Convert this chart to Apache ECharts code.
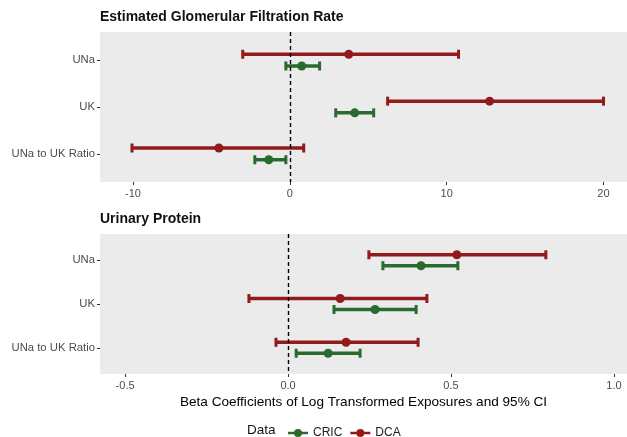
<!DOCTYPE html>
<html><head><meta charset="utf-8">
<script src="https://cdn.jsdelivr.net/npm/echarts@6/dist/echarts.min.js"></script>
<style>html,body{margin:0;padding:0;background:#fff}#c{width:627px;height:437px}</style>
</head><body><div id="c"></div>
<script>
const categories = ['UNa', 'UK', 'UNa to UK Ratio'];
const panelTitles = ['Estimated Glomerular Filtration Rate', 'Urinary Protein'];
const axisTitle = 'Beta Coefficients of Log Transformed Exposures and 95% CI';
const legendTitle = 'Data';
const groups = ['CRIC', 'DCA'];
// eGFR: [estimate, lower, upper] per category
const egfrDCA  = [[3.76, -3.0, 10.76], [12.74, 6.24, 20.0], [-4.52, -10.06, 0.89]];
const egfrCRIC = [[0.76, -0.25, 1.9], [4.14, 2.93, 5.35], [-1.34, -2.23, -0.25]];
// Urinary protein
const protDCA  = [[0.518, 0.248, 0.791], [0.16, -0.12, 0.426], [0.178, -0.037, 0.399]];
const protCRIC = [[0.408, 0.291, 0.521], [0.267, 0.141, 0.393], [0.123, 0.025, 0.221]];
const egfrTicks = [-10, 0, 10, 20];
const protTicks = [-0.5, 0.0, 0.5, 1.0];

const colors = {CRIC: '#2b6a2f', DCA: '#921a1a'};
const font = 'Liberation Sans, Arial, sans-serif';

function toData(arr) {
  return arr.map((d, i) => [i + 1, d[1], d[0], d[2]]);
}
function makeRender(sign) {
  return function (params, api) {
    const y = api.value(0);
    const band = Math.abs(api.size([0, 1])[1]);
    const off = sign * 0.125 * band;
    const lo = api.coord([api.value(1), y]);
    const est = api.coord([api.value(2), y]);
    const hi = api.coord([api.value(3), y]);
    const yy = lo[1] + off;
    const c = api.visual('color');
    const capH = 4.5;
    return {
      type: 'group',
      children: [
        {type: 'line', shape: {x1: lo[0], y1: yy, x2: hi[0], y2: yy}, style: {stroke: c, lineWidth: 3.5}},
        {type: 'line', shape: {x1: lo[0], y1: yy - capH, x2: lo[0], y2: yy + capH}, style: {stroke: c, lineWidth: 3}},
        {type: 'line', shape: {x1: hi[0], y1: yy - capH, x2: hi[0], y2: yy + capH}, style: {stroke: c, lineWidth: 3}},
        {type: 'circle', shape: {cx: est[0], cy: yy, r: 4.5}, style: {fill: c}}
      ]
    };
  };
}
function xAxisFor(idx, min, max, ticks, fmt, withName) {
  const ax = {
    type: 'value', gridIndex: idx, min: min, max: max,
    axisLine: {show: false, onZero: false},
    axisTick: {show: true, length: 3, lineStyle: {color: '#333', width: 1}, customValues: ticks},
    axisLabel: {color: '#4d4d4d', fontSize: 11, fontFamily: font, margin: 6, customValues: ticks, formatter: fmt},
    splitLine: {show: false}
  };
  if (withName) {
    ax.name = axisTitle;
    ax.nameLocation = 'middle';
    ax.nameGap = 21;
    ax.nameTextStyle = {color: '#000', fontSize: 13.6, fontFamily: font};
  }
  return ax;
}
function yAxisFor(idx) {
  return {
    type: 'value', gridIndex: idx, min: 0.4, max: 3.6, inverse: true,
    axisLine: {show: false, onZero: false},
    axisTick: {show: true, length: 3, lineStyle: {color: '#333', width: 1}, customValues: [1, 2, 3]},
    axisLabel: {color: '#4d4d4d', fontSize: 11.3, fontFamily: font, margin: 5, customValues: [1, 2, 3],
      formatter: v => categories[Math.round(v) - 1] || ''},
    splitLine: {show: false}
  };
}
const zeroLine = {
  silent: true, symbol: 'none', label: {show: false},
  lineStyle: {color: '#000', type: [4, 3], width: 1.4},
  data: [{xAxis: 0}]
};
function series(name, arr, idx, sign, withZero) {
  const s = {
    name: name, type: 'custom', xAxisIndex: idx, yAxisIndex: idx,
    color: colors[name], itemStyle: {color: colors[name]},
    renderItem: makeRender(sign),
    encode: {x: [1, 2, 3], y: 0},
    data: toData(arr), z: 3
  };
  if (withZero) s.markLine = zeroLine;
  return s;
}
const chart = echarts.init(document.getElementById('c'), null, {renderer: 'canvas'});
chart.setOption({
  backgroundColor: '#fff',
  animation: false,
  title: [
    {text: panelTitles[0], left: 95, top: 5, textStyle: {fontSize: 14, fontWeight: 'bold', color: '#111', fontFamily: font}},
    {text: panelTitles[1], left: 95, top: 207, textStyle: {fontSize: 14, fontWeight: 'bold', color: '#111', fontFamily: font}}
  ],
  grid: [
    {left: 100, right: 0, top: 32, height: 150, show: true, backgroundColor: '#ebebeb', borderWidth: 0},
    {left: 100, right: 0, top: 234, height: 140, show: true, backgroundColor: '#ebebeb', borderWidth: 0}
  ],
  xAxis: [
    xAxisFor(0, -12.1, 21.5, egfrTicks, v => String(v), false),
    xAxisFor(1, -0.577, 1.04, protTicks, v => v.toFixed(1), true)
  ],
  yAxis: [yAxisFor(0), yAxisFor(1)],
  legend: {
    data: groups, left: 283, top: 422, itemWidth: 20, itemHeight: 9, itemGap: 8,
    icon: 'path://M0,3.3 L20,3.3 L20,5.7 L0,5.7 Z M6,4.5 A4,4 0 1,1 14,4.5 A4,4 0 1,1 6,4.5 Z',
    textStyle: {fontSize: 12, color: '#222', fontFamily: font}
  },
  graphic: [
    {type: 'text', left: 247, top: 423, style: {text: legendTitle, fontSize: 13.5, fill: '#111', fontFamily: font}}
  ],
  series: [
    series('DCA', egfrDCA, 0, -1, true),
    series('CRIC', egfrCRIC, 0, 1, false),
    series('DCA', protDCA, 1, -1, true),
    series('CRIC', protCRIC, 1, 1, false)
  ]
});
</script></body></html>
